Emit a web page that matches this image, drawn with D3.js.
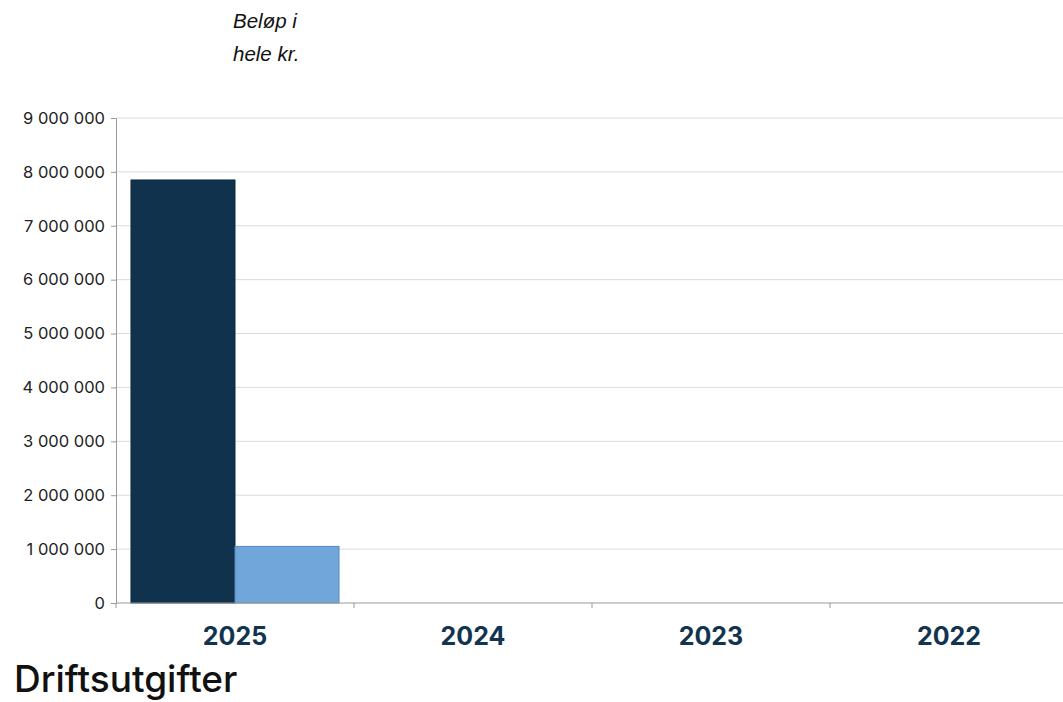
<!DOCTYPE html>
<html>
<head>
<meta charset="utf-8">
<script src="https://cdn.jsdelivr.net/npm/d3@7"></script>
<style>
  body { margin: 0; background: #fff; }
  text { font-family: Inter, "Noto Sans", sans-serif; }
</style>
</head>
<body>
<script>
// data
var years = ["2025", "2024", "2023", "2022"];
var series = ["s1", "s2"];
var values1 = [7850000, 0, 0, 0];
var values2 = [1050000, 0, 0, 0];
var yTicks = [0, 1000000, 2000000, 3000000, 4000000, 5000000, 6000000, 7000000, 8000000, 9000000];
var colors = ["#10324d", "#70a6d9"];
var strokes = ["#0d2a40", "#5a8abb"];

var width = 1063, height = 702;
var svg = d3.select("body").append("svg")
    .attr("width", width)
    .attr("height", height);

var mLeft = 116, mRight = 1068, mTop = 118, mBottom = 603;

var x = d3.scaleBand().domain(years).range([mLeft, mRight]).padding(0);
var xs = d3.scaleBand().domain(series).range([0, x.bandwidth()]).paddingInner(0).paddingOuter(0.144);
var y = d3.scaleLinear().domain([0, 9000000]).range([mBottom, mTop]);

var fmt = function(v){ return d3.format(",")(v).replace(/,/g, " "); };

// gridlines
svg.append("g").selectAll("line")
  .data(yTicks.slice(1))
  .enter().append("line")
  .attr("x1", mLeft).attr("x2", width)
  .attr("y1", function(d){ return y(d); })
  .attr("y2", function(d){ return y(d); })
  .attr("stroke", "#dcdcdc").attr("stroke-width", 1);

// bars
var data = years.map(function(yr, i){ return {year: yr, vals: [values1[i], values2[i]]}; });
var groups = svg.append("g").selectAll("g")
  .data(data)
  .enter().append("g")
  .attr("transform", function(d){ return "translate(" + x(d.year) + ",0)"; });
groups.selectAll("rect")
  .data(function(d){ return d.vals.map(function(v, j){ return {s: series[j], v: v, j: j}; }).filter(function(d){ return d.v > 0; }); })
  .enter().append("rect")
  .attr("x", function(d){ return xs(d.s); })
  .attr("width", xs.bandwidth())
  .attr("y", function(d){ return y(d.v); })
  .attr("height", function(d){ return y(0) - y(d.v); })
  .attr("fill", function(d){ return colors[d.j]; })
  .attr("stroke", function(d){ return strokes[d.j]; })
  .attr("stroke-width", 1);

// y axis
var yAxis = svg.append("g")
  .attr("transform", "translate(" + mLeft + ",0)")
  .call(d3.axisLeft(y).tickValues(yTicks).tickFormat(fmt).tickSize(5).tickPadding(6));
yAxis.select(".domain").attr("stroke", "#999");
yAxis.selectAll(".tick line").attr("stroke", "#999");
yAxis.selectAll("text").attr("fill", "#222").style("font-size", "16.5px");

// x axis
var xAxis = svg.append("g")
  .attr("transform", "translate(0," + mBottom + ")");
xAxis.append("line")
  .attr("x1", mLeft).attr("x2", width)
  .attr("stroke", "#999");
xAxis.selectAll(".xt")
  .data(years)
  .enter().append("line")
  .attr("class", "xt")
  .attr("x1", function(d){ return x(d); })
  .attr("x2", function(d){ return x(d); })
  .attr("y1", 0).attr("y2", 5)
  .attr("stroke", "#999");
xAxis.selectAll(".xl")
  .data(years)
  .enter().append("text")
  .attr("class", "xl")
  .attr("x", function(d){ return x(d) + x.bandwidth() / 2; })
  .attr("y", 42)
  .attr("text-anchor", "middle")
  .attr("fill", "#12344f")
  .style("font-size", "25px")
  .style("font-weight", "bold")
  .text(function(d){ return d; });

// unit note
svg.append("text")
  .attr("x", 233).attr("y", 28)
  .style("font-family", "'Liberation Sans', Arial, sans-serif")
  .style("font-size", "20.5px").style("font-style", "italic")
  .attr("fill", "#111")
  .text("Beløp i");
svg.append("text")
  .attr("x", 233).attr("y", 61)
  .style("font-family", "'Liberation Sans', Arial, sans-serif")
  .style("font-size", "20.5px").style("font-style", "italic")
  .attr("fill", "#111")
  .text("hele kr.");

// title
svg.append("text")
  .attr("x", 14).attr("y", 692)
  .style("font-size", "37px").style("font-weight", "500")
  .attr("fill", "#111")
  .text("Driftsutgifter");
</script>
</body>
</html>
